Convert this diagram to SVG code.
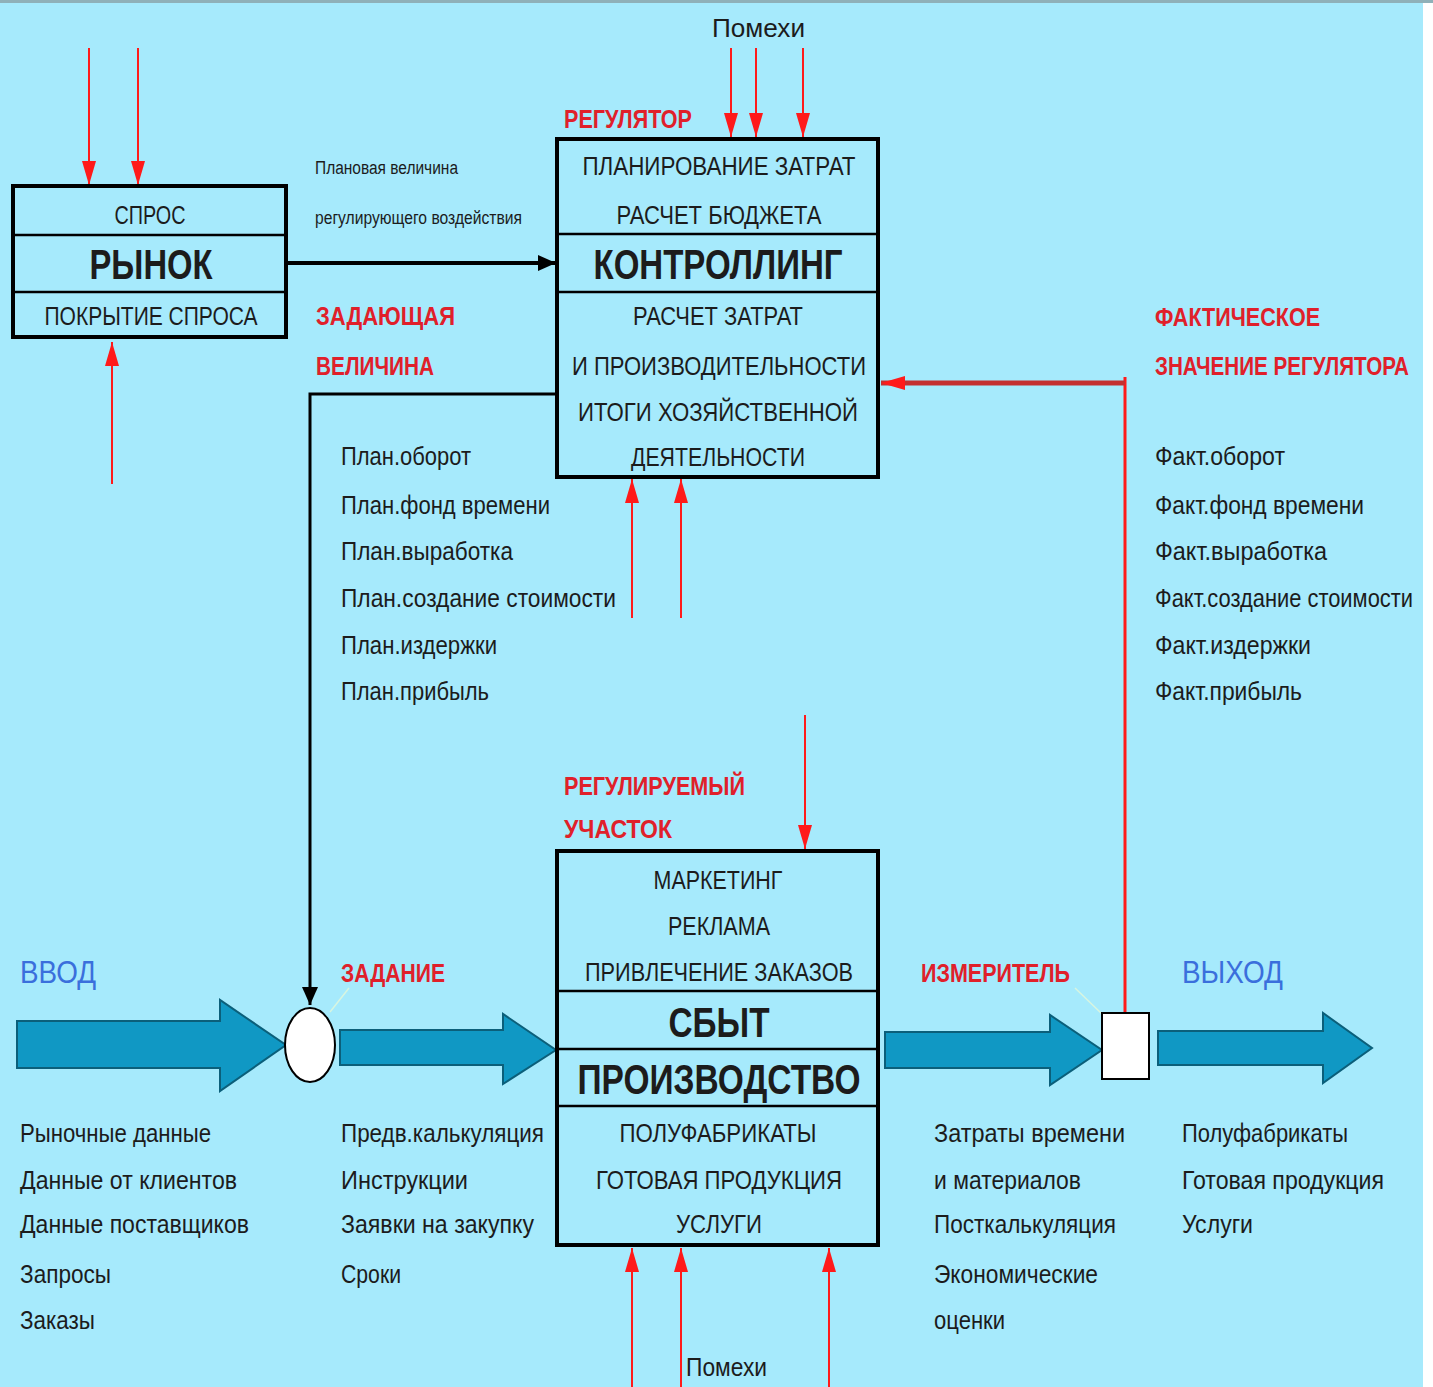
<svg xmlns="http://www.w3.org/2000/svg" width="1433" height="1387" viewBox="0 0 1433 1387">
<style>
text{font-family:"Liberation Sans",Arial,sans-serif;fill:#1c1c1c;font-size:26px}
.c{text-anchor:middle}
.b{font-weight:bold;font-size:43px}
.r{fill:#e0202a;font-size:26px;font-weight:bold}
.bl{fill:#3a6fdc;font-size:32px}
.sm{font-size:18px}
.box{fill:none;stroke:#000;stroke-width:4}
.div{stroke:#000;stroke-width:2.5}
.red{stroke:#ff1a1a;stroke-width:2;fill:none}
.big{fill:#1098c4;stroke:#0b5f7a;stroke-width:2}
</style>
<defs>
<marker id="ar" markerUnits="userSpaceOnUse" markerWidth="24" markerHeight="14" refX="24" refY="7" viewBox="0 0 24 14" orient="auto"><path d="M0,0 L24,7 L0,14 z" fill="#ff1a1a"/></marker>
<marker id="ab" markerUnits="userSpaceOnUse" markerWidth="18" markerHeight="16" refX="18" refY="8" viewBox="0 0 18 16" orient="auto"><path d="M0,0 L18,8 L0,16 z" fill="#000"/></marker>
</defs>
<rect x="0" y="0" width="1433" height="1387" fill="#ffffff"/>
<rect x="0" y="0" width="1423" height="1387" fill="#a6eafc"/>
<rect x="0" y="0" width="1433" height="3" fill="#8fb0b8"/>

<g id="connectors">
<line class="red" x1="89" y1="48" x2="89" y2="185" marker-end="url(#ar)"/>
<line class="red" x1="138" y1="48" x2="138" y2="185" marker-end="url(#ar)"/>
<line class="red" x1="112" y1="484" x2="112" y2="342" marker-end="url(#ar)"/>
<line x1="287" y1="263" x2="556" y2="263" stroke="#000" stroke-width="4" marker-end="url(#ab)"/>
<line class="red" x1="731" y1="48" x2="731" y2="137" marker-end="url(#ar)"/>
<line class="red" x1="756" y1="48" x2="756" y2="137" marker-end="url(#ar)"/>
<line class="red" x1="803" y1="48" x2="803" y2="137" marker-end="url(#ar)"/>
<line class="red" x1="632" y1="618" x2="632" y2="479" marker-end="url(#ar)"/>
<line class="red" x1="681" y1="618" x2="681" y2="479" marker-end="url(#ar)"/>
<polyline points="556,394 310,394 310,1005" fill="none" stroke="#000" stroke-width="3" marker-end="url(#ab)"/>
<line x1="1125" y1="1012" x2="1125" y2="377" stroke="#ff1a1a" stroke-width="3"/>
<line x1="1125" y1="383" x2="881" y2="383" stroke="#c43030" stroke-width="5" marker-end="url(#ar)"/>
<line class="red" x1="805" y1="715" x2="805" y2="849" marker-end="url(#ar)"/>
<line class="red" x1="632" y1="1387" x2="632" y2="1248" marker-end="url(#ar)"/>
<line class="red" x1="681" y1="1387" x2="681" y2="1248" marker-end="url(#ar)"/>
<line class="red" x1="829" y1="1387" x2="829" y2="1248" marker-end="url(#ar)"/>
<line x1="349" y1="988" x2="330" y2="1012" stroke="#d8f5e0" stroke-width="1.5"/>
<line x1="1075" y1="988" x2="1102" y2="1014" stroke="#d8f5e0" stroke-width="1.5"/>
</g>

<g id="flow-arrows">
<path class="big" d="M17,1021 L220,1021 L220,1000 L286,1045 L220,1091 L220,1068 L17,1068 z"/>
<path class="big" d="M340,1030 L503,1030 L503,1014 L556,1050 L503,1084 L503,1065 L340,1065 z"/>
<path class="big" d="M885,1032 L1050,1032 L1050,1015 L1102,1050 L1050,1085 L1050,1068 L885,1068 z"/>
<path class="big" d="M1158,1031 L1323,1031 L1323,1013 L1372,1048 L1323,1083 L1323,1065 L1158,1065 z"/>
</g>

<g id="market">
<rect class="box" x="13" y="186" width="273" height="151"/>
<line class="div" x1="13" y1="235" x2="286" y2="235"/>
<line class="div" x1="13" y1="292" x2="286" y2="292"/>
<text class="c" x="150" y="224" textLength="71" lengthAdjust="spacingAndGlyphs">СПРОС</text>
<text class="c b" x="151" y="279" textLength="123" lengthAdjust="spacingAndGlyphs">РЫНОК</text>
<text class="c" x="151" y="325" textLength="213" lengthAdjust="spacingAndGlyphs">ПОКРЫТИЕ СПРОСА</text>
</g>

<g id="controlling">
<rect class="box" x="557" y="139" width="321" height="338"/>
<line class="div" x1="557" y1="234" x2="878" y2="234"/>
<line class="div" x1="557" y1="292" x2="878" y2="292"/>
<text class="c" x="719" y="175" textLength="273" lengthAdjust="spacingAndGlyphs">ПЛАНИРОВАНИЕ ЗАТРАТ</text>
<text class="c" x="719" y="224" textLength="205" lengthAdjust="spacingAndGlyphs">РАСЧЕТ БЮДЖЕТА</text>
<text class="c b" x="718" y="279" textLength="249" lengthAdjust="spacingAndGlyphs">КОНТРОЛЛИНГ</text>
<text class="c" x="718" y="325" textLength="170" lengthAdjust="spacingAndGlyphs">РАСЧЕТ ЗАТРАТ</text>
<text class="c" x="719" y="375" textLength="294" lengthAdjust="spacingAndGlyphs">И ПРОИЗВОДИТЕЛЬНОСТИ</text>
<text class="c" x="718" y="421" textLength="280" lengthAdjust="spacingAndGlyphs">ИТОГИ ХОЗЯЙСТВЕННОЙ</text>
<text class="c" x="718" y="466" textLength="174" lengthAdjust="spacingAndGlyphs">ДЕЯТЕЛЬНОСТИ</text>
</g>

<g id="production">
<rect class="box" x="557" y="851" width="321" height="394"/>
<line class="div" x1="557" y1="991" x2="878" y2="991"/>
<line class="div" x1="557" y1="1049" x2="878" y2="1049"/>
<line class="div" x1="557" y1="1106" x2="878" y2="1106"/>
<text class="c" x="718" y="889" textLength="129" lengthAdjust="spacingAndGlyphs">МАРКЕТИНГ</text>
<text class="c" x="719" y="935" textLength="102" lengthAdjust="spacingAndGlyphs">РЕКЛАМА</text>
<text class="c" x="719" y="981" textLength="268" lengthAdjust="spacingAndGlyphs">ПРИВЛЕЧЕНИЕ ЗАКАЗОВ</text>
<text class="c b" x="719" y="1037" textLength="101" lengthAdjust="spacingAndGlyphs">СБЫТ</text>
<text class="c b" x="719" y="1094" textLength="283" lengthAdjust="spacingAndGlyphs">ПРОИЗВОДСТВО</text>
<text class="c" x="718" y="1142" textLength="197" lengthAdjust="spacingAndGlyphs">ПОЛУФАБРИКАТЫ</text>
<text class="c" x="719" y="1189" textLength="246" lengthAdjust="spacingAndGlyphs">ГОТОВАЯ ПРОДУКЦИЯ</text>
<text class="c" x="719" y="1233" textLength="86" lengthAdjust="spacingAndGlyphs">УСЛУГИ</text>
</g>

<g id="comparator">
<ellipse cx="310" cy="1045" rx="25" ry="37" fill="#fff" stroke="#000" stroke-width="2"/>
</g>

<g id="meter">
<rect x="1102" y="1013" width="47" height="66" fill="#fff" stroke="#000" stroke-width="2"/>
</g>

<g id="labels">
<text x="712" y="37" font-size="30" textLength="93" lengthAdjust="spacingAndGlyphs">Помехи</text>
<text class="r" x="564" y="128" textLength="128" lengthAdjust="spacingAndGlyphs">РЕГУЛЯТОР</text>
<text class="sm" x="315" y="174" textLength="143" lengthAdjust="spacingAndGlyphs">Плановая величина</text>
<text class="sm" x="315" y="224" textLength="207" lengthAdjust="spacingAndGlyphs">регулирующего воздействия</text>
<text class="r" x="316" y="325" textLength="139" lengthAdjust="spacingAndGlyphs">ЗАДАЮЩАЯ</text>
<text class="r" x="316" y="375" textLength="118" lengthAdjust="spacingAndGlyphs">ВЕЛИЧИНА</text>
<text class="r" x="1155" y="326" textLength="165" lengthAdjust="spacingAndGlyphs">ФАКТИЧЕСКОЕ</text>
<text class="r" x="1155" y="375" textLength="254" lengthAdjust="spacingAndGlyphs">ЗНАЧЕНИЕ РЕГУЛЯТОРА</text>

<text x="341" y="465" textLength="130" lengthAdjust="spacingAndGlyphs">План.оборот</text>
<text x="341" y="514" textLength="209" lengthAdjust="spacingAndGlyphs">План.фонд времени</text>
<text x="341" y="560" textLength="172" lengthAdjust="spacingAndGlyphs">План.выработка</text>
<text x="341" y="607" textLength="275" lengthAdjust="spacingAndGlyphs">План.создание стоимости</text>
<text x="341" y="654" textLength="156" lengthAdjust="spacingAndGlyphs">План.издержки</text>
<text x="341" y="700" textLength="148" lengthAdjust="spacingAndGlyphs">План.прибыль</text>

<text x="1155" y="465" textLength="130" lengthAdjust="spacingAndGlyphs">Факт.оборот</text>
<text x="1155" y="514" textLength="209" lengthAdjust="spacingAndGlyphs">Факт.фонд времени</text>
<text x="1155" y="560" textLength="172" lengthAdjust="spacingAndGlyphs">Факт.выработка</text>
<text x="1155" y="607" textLength="258" lengthAdjust="spacingAndGlyphs">Факт.создание стоимости</text>
<text x="1155" y="654" textLength="156" lengthAdjust="spacingAndGlyphs">Факт.издержки</text>
<text x="1155" y="700" textLength="147" lengthAdjust="spacingAndGlyphs">Факт.прибыль</text>

<text class="r" x="564" y="795" textLength="181" lengthAdjust="spacingAndGlyphs">РЕГУЛИРУЕМЫЙ</text>
<text class="r" x="564" y="838" textLength="108" lengthAdjust="spacingAndGlyphs">УЧАСТОК</text>

<text class="bl" x="20" y="983" textLength="76" lengthAdjust="spacingAndGlyphs">ВВОД</text>
<text class="r" x="341" y="982" textLength="104" lengthAdjust="spacingAndGlyphs">ЗАДАНИЕ</text>
<text class="r" x="921" y="982" textLength="149" lengthAdjust="spacingAndGlyphs">ИЗМЕРИТЕЛЬ</text>
<text class="bl" x="1182" y="983" textLength="101" lengthAdjust="spacingAndGlyphs">ВЫХОД</text>

<text x="20" y="1142" textLength="191" lengthAdjust="spacingAndGlyphs">Рыночные данные</text>
<text x="20" y="1189" textLength="217" lengthAdjust="spacingAndGlyphs">Данные от клиентов</text>
<text x="20" y="1233" textLength="229" lengthAdjust="spacingAndGlyphs">Данные поставщиков</text>
<text x="20" y="1283" textLength="91" lengthAdjust="spacingAndGlyphs">Запросы</text>
<text x="20" y="1329" textLength="75" lengthAdjust="spacingAndGlyphs">Заказы</text>

<text x="341" y="1142" textLength="203" lengthAdjust="spacingAndGlyphs">Предв.калькуляция</text>
<text x="341" y="1189" textLength="127" lengthAdjust="spacingAndGlyphs">Инструкции</text>
<text x="341" y="1233" textLength="193" lengthAdjust="spacingAndGlyphs">Заявки на закупку</text>
<text x="341" y="1283" textLength="60" lengthAdjust="spacingAndGlyphs">Сроки</text>

<text x="934" y="1142" textLength="191" lengthAdjust="spacingAndGlyphs">Затраты времени</text>
<text x="934" y="1189" textLength="147" lengthAdjust="spacingAndGlyphs">и материалов</text>
<text x="934" y="1233" textLength="182" lengthAdjust="spacingAndGlyphs">Посткалькуляция</text>
<text x="934" y="1283" textLength="164" lengthAdjust="spacingAndGlyphs">Экономические</text>
<text x="934" y="1329" textLength="71" lengthAdjust="spacingAndGlyphs">оценки</text>

<text x="1182" y="1142" textLength="166" lengthAdjust="spacingAndGlyphs">Полуфабрикаты</text>
<text x="1182" y="1189" textLength="202" lengthAdjust="spacingAndGlyphs">Готовая продукция</text>
<text x="1182" y="1233" textLength="71" lengthAdjust="spacingAndGlyphs">Услуги</text>

<text x="686" y="1376" textLength="81" lengthAdjust="spacingAndGlyphs">Помехи</text>
</g>
</svg>
